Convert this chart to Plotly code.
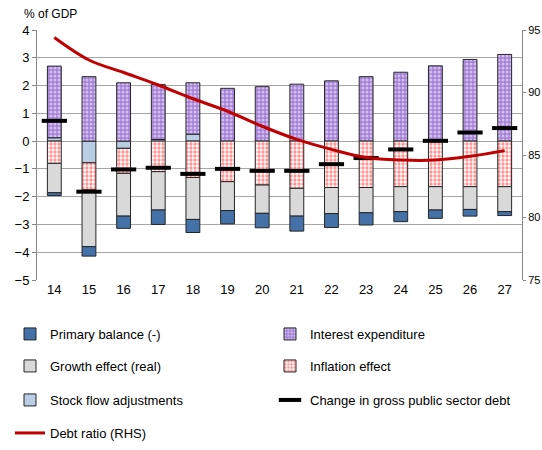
import plotly.graph_objects as go

years = ["14", "15", "16", "17", "18", "19", "20", "21", "22", "23", "24", "25", "26", "27"]
primary_balance = [-0.10, -0.34, -0.44, -0.52, -0.47, -0.48, -0.52, -0.54, -0.50, -0.44, -0.36, -0.30, -0.24, -0.14]
interest = [2.58, 2.32, 2.10, 1.98, 1.85, 1.90, 1.96, 2.05, 2.17, 2.32, 2.48, 2.71, 2.94, 3.12]
growth = [-1.06, -2.04, -1.54, -1.38, -1.51, -1.04, -1.02, -1.00, -0.94, -0.91, -0.90, -0.84, -0.82, -0.90]
inflation = [-0.80, -0.98, -0.90, -1.10, -1.31, -1.46, -1.58, -1.70, -1.67, -1.67, -1.64, -1.64, -1.64, -1.64]
stock_flow = [0.12, -0.78, -0.26, 0.06, 0.25, 0.0, 0.0, 0.0, 0.0, 0.0, 0.0, 0.0, 0.0, 0.0]
change_debt = [0.73, -1.82, -1.02, -0.96, -1.18, -1.00, -1.07, -1.07, -0.83, -0.61, -0.30, 0.01, 0.31, 0.47]
debt_ratio = [94.4, 92.6, 91.6, 90.6, 89.5, 88.5, 87.3, 86.25, 85.45, 84.8, 84.6, 84.6, 84.9, 85.35]

xi = list(range(len(years)))
FONT = "Arial, Liberation Sans, sans-serif"
edge = dict(color="#262626", width=1)

fig = go.Figure()
fig.add_trace(go.Bar(x=xi, y=stock_flow, name="Stock flow adjustments",
                     marker=dict(color="#B9CDE5", line=edge), legend="legend5"))
fig.add_trace(go.Bar(x=xi, y=interest, name="Interest expenditure",
                     marker=dict(color="#9966CC", line=edge,
                                 pattern=dict(shape=".", fgcolor="white", bgcolor="#A47FD8",
                                              size=4, solidity=0.45)),
                     legend="legend2"))
fig.add_trace(go.Bar(x=xi, y=inflation, name="Inflation effect",
                     marker=dict(color="#FF3333", line=edge,
                                 pattern=dict(shape=".", fgcolor="#FF2A2A", bgcolor="white",
                                              size=4, solidity=0.55)),
                     legend="legend4"))
fig.add_trace(go.Bar(x=xi, y=growth, name="Growth effect (real)",
                     marker=dict(color="#D9D9D9", line=edge), legend="legend3"))
fig.add_trace(go.Bar(x=xi, y=primary_balance, name="Primary balance (-)",
                     marker=dict(color="#4472A8", line=edge), legend="legend8"))
fig.add_trace(go.Scatter(x=xi, y=change_debt, name="Change in gross public sector debt",
                         mode="markers",
                         marker=dict(symbol="line-ew", size=18, line=dict(color="black", width=4)),
                         legend="legend6"))
fig.add_trace(go.Scatter(x=xi, y=debt_ratio, name="Debt ratio (RHS)", mode="lines",
                         line=dict(color="#C00000", width=3, shape="spline"),
                         yaxis="y2", legend="legend7"))

leg_common = dict(orientation="v", xanchor="left", yanchor="middle",
                  font=dict(family=FONT, size=13, color="black"),
                  bgcolor="rgba(0,0,0,0)")
col1 = (10 - 37) / 485
col2 = (270 - 37) / 485
rows = [-0.216, -0.344, -0.48, -0.612]

fig.update_layout(
    width=542, height=450,
    margin=dict(l=37, r=20, t=30, b=170, autoexpand=False),
    paper_bgcolor="white", plot_bgcolor="white",
    barmode="relative", bargap=0.6,
    font=dict(family=FONT, size=13, color="black"),
    xaxis=dict(range=[-0.5, len(years) - 0.5], tickvals=xi, ticktext=years,
               showgrid=False, zeroline=False, showline=False, ticks="",
               tickfont=dict(size=13)),
    xaxis2=dict(overlaying="x", anchor="free", position=5 / 9, side="bottom",
                range=[-0.5, len(years) - 0.5],
                tickvals=[v - 0.5 for v in xi] + [len(years) - 0.5],
                showticklabels=False, showgrid=False, zeroline=False,
                showline=True, linecolor="#868686", linewidth=1,
                ticks="outside", ticklen=4, tickcolor="#868686"),
    yaxis=dict(range=[-5, 4], dtick=1, showgrid=True, gridcolor="#A6A6A6", gridwidth=1,
               zeroline=False, showline=True, linecolor="#868686", ticks="outside",
               ticklen=4, tickcolor="#868686", tickfont=dict(size=13)),
    yaxis2=dict(overlaying="y", side="right", range=[75, 95], dtick=5, showgrid=False,
                zeroline=False, showline=True, linecolor="#868686", ticks="outside",
                ticklen=3, tickcolor="#868686", tickfont=dict(size=11)),
    legend=dict(visible=False),
    legend8=dict(leg_common, x=col1, y=rows[0]),
    legend2=dict(leg_common, x=col2, y=rows[0]),
    legend3=dict(leg_common, x=col1, y=rows[1]),
    legend4=dict(leg_common, x=col2, y=rows[1]),
    legend5=dict(leg_common, x=col1, y=rows[2]),
    legend6=dict(leg_common, x=col2, y=rows[2]),
    legend7=dict(leg_common, x=col1, y=rows[3]),
    annotations=[dict(text="% of GDP", xref="paper", yref="paper", x=-0.031, y=1.064,
                      xanchor="left", yanchor="middle", showarrow=False,
                      font=dict(family=FONT, size=12))],
)

fig.write_html("out.html", config={"displayModeBar": False},
               post_script="document.body.style.margin='0';document.body.style.overflow='hidden';")
